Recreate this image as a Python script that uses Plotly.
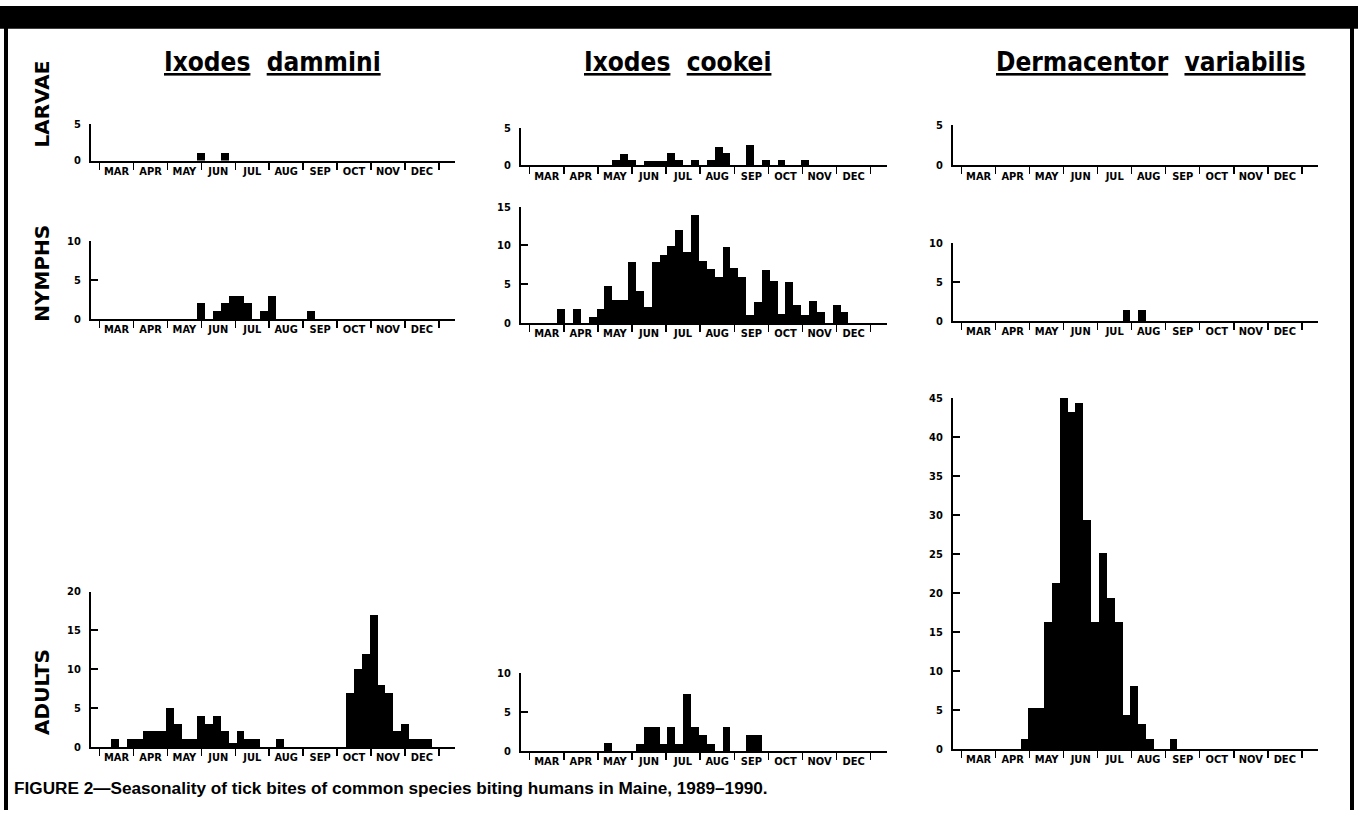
import plotly.graph_objects as go

W, H = 1358, 817
WEEKS_PER_MONTH = 52 / 12

# ---------------- data (week index after 1 March, bites per week) ----------------
months = ["MAR", "APR", "MAY", "JUN", "JUL", "AUG", "SEP", "OCT", "NOV", "DEC"]

dammini_larvae_weeks = [13, 16]
dammini_larvae_counts = [1, 1]

dammini_nymph_weeks = [13, 15, 16, 17, 18, 19, 21, 22, 27]
dammini_nymph_counts = [2, 1, 2, 3, 3, 2, 1, 3, 1]

dammini_adult_weeks = [2, 4, 5, 6, 7, 8, 9, 10, 11, 12, 13, 14, 15, 16, 17, 18, 19, 20, 23,
                       32, 33, 34, 35, 36, 37, 38, 39, 40, 41, 42]
dammini_adult_counts = [1, 1, 1, 2, 2, 2, 5, 3, 1, 1, 4, 3, 4, 2, 0.5, 2, 1, 1, 1,
                        7, 10, 12, 17, 8, 7, 2, 3, 1, 1, 1]

cookei_larvae_weeks = [11, 12, 13, 15, 16, 17, 18, 19, 21, 23, 24, 25, 28, 30, 32, 35]
cookei_larvae_counts = [0.7, 1.5, 0.7, 0.6, 0.6, 0.6, 1.6, 0.7, 0.7, 0.7, 2.5, 1.6, 2.7, 0.7, 0.7, 0.7]

cookei_nymph_weeks = [4, 6, 8, 9, 10, 11, 12, 13, 14, 15, 16, 17, 18, 19, 20, 21, 22, 23, 24,
                      25, 26, 27, 28, 29, 30, 31, 32, 33, 34, 35, 36, 37, 39, 40]
cookei_nymph_counts = [1.8, 1.8, 0.7, 1.8, 4.8, 2.9, 2.9, 7.9, 4.1, 2.0, 7.9, 8.8, 9.9, 12.0, 9.2,
                       13.9, 8.0, 7.0, 5.9, 9.8, 7.1, 5.9, 1.05, 2.7, 6.8, 5.4, 1.2, 5.3, 2.3,
                       1.05, 2.8, 1.35, 2.3, 1.35]

cookei_adult_weeks = [10, 14, 15, 16, 17, 18, 19, 20, 21, 22, 23, 25, 28, 29]
cookei_adult_counts = [1.0, 0.9, 3.1, 3.1, 0.9, 3.1, 0.9, 7.3, 3.1, 2.0, 0.9, 3.1, 2.0, 2.0]

dermacentor_larvae_weeks = []
dermacentor_larvae_counts = []

dermacentor_nymph_weeks = [21, 23]
dermacentor_nymph_counts = [1.4, 1.4]

dermacentor_adult_weeks = [8, 9, 10, 11, 12, 13, 14, 15, 16, 17, 18, 19, 20, 21, 22, 23, 24, 27]
dermacentor_adult_counts = [1.3, 5.2, 5.2, 16.3, 21.2, 45, 43.2, 44.3, 29.3, 16.3, 25.1, 19.3,
                            16.3, 4.3, 8.1, 3.2, 1.3, 1.3]

species = ["Ixodes dammini", "Ixodes cookei", "Dermacentor variabilis"]
stages = ["LARVAE", "NYMPHS", "ADULTS"]
caption = "FIGURE 2\u2014Seasonality of tick bites of common species biting humans in Maine, 1989\u20131990."

# ---------------- layout geometry (pixels) ----------------
col_x = [(91, 455), (521, 887), (953, 1318)]
panels = [
    # (weeks, counts, ymax, column, y_top_px, y_zero_px)
    (dammini_larvae_weeks, dammini_larvae_counts, 5, 0, 120, 157),
    (dammini_nymph_weeks, dammini_nymph_counts, 10, 0, 239, 318),
    (dammini_adult_weeks, dammini_adult_counts, 20, 0, 595, 753),
    (cookei_larvae_weeks, cookei_larvae_counts, 5, 1, 124, 162),
    (cookei_nymph_weeks, cookei_nymph_counts, 15, 1, 204, 322),
    (cookei_adult_weeks, cookei_adult_counts, 10, 1, 678, 757),
    (dermacentor_larvae_weeks, dermacentor_larvae_counts, 5, 2, 121, 162),
    (dermacentor_nymph_weeks, dermacentor_nymph_counts, 10, 2, 241, 320),
    (dermacentor_adult_weeks, dermacentor_adult_counts, 45, 2, 398, 755),
]


def px(x):
    return x / W


def py(y):
    return 1 - y / H


NARROW = "DejaVu Sans Condensed, Liberation Sans Narrow, sans-serif"

fig = go.Figure()
layout = dict(
    width=W, height=H,
    margin=dict(l=0, r=0, t=0, b=0),
    paper_bgcolor="white", plot_bgcolor="white",
    showlegend=False,
    bargap=0,
)

month_centers = [(i + 0.5) * WEEKS_PER_MONTH for i in range(len(months))]

for i, (wk, ct, ymax, col, ytop, yzero) in enumerate(panels):
    n = i + 1
    xs = "" if n == 1 else str(n)
    fig.add_trace(go.Bar(
        x=wk, y=ct, width=1,
        marker=dict(color="black", line=dict(width=0)),
        xaxis="x" + xs, yaxis="y" + xs,
    ))
    x0, x1 = col_x[col]
    layout["xaxis" + xs] = dict(
        domain=[px(x0), px(x1)],
        range=[-1.1, 45.4],
        anchor="y" + xs,
        showline=True, linewidth=2, linecolor="black",
        showgrid=False, zeroline=False,
        tickmode="array", tickvals=month_centers, ticktext=months,
        ticks="",
        tickfont=dict(family=NARROW, size=11, color="black", weight="bold"),
        ticklabelstandoff=-1,
        minor=dict(tickmode="linear", tick0=0, dtick=WEEKS_PER_MONTH,
                   ticks="outside", ticklen=7, tickwidth=1.5, tickcolor="black",
                   showgrid=False),
        fixedrange=True,
    )
    layout["yaxis" + xs] = dict(
        domain=[py(yzero), py(ytop)],
        range=[0, ymax],
        anchor="x" + xs,
        showline=True, linewidth=2, linecolor="black",
        showgrid=False, zeroline=False,
        tickmode="array", tickvals=list(range(0, ymax + 1, 5)),
        ticks="inside", ticklen=7, tickwidth=2, tickcolor="black",
        tickfont=dict(family=NARROW, size=11, color="black", weight="bold"),
        ticklabelstandoff=6,
        fixedrange=True,
    )

annotations = []
title_x = [272, 677, 1151]
for name, cx in zip(species, title_x):
    words = name.split(" ")
    txt = "  ".join("<u>" + w_ + "</u>" for w_ in words)
    annotations.append(dict(
        x=px(cx), y=py(57), xref="paper", yref="paper",
        text=txt, showarrow=False, xanchor="center", yanchor="middle",
        font=dict(family=NARROW, size=26, color="black", weight="bold"),
    ))

stage_y = [100, 272, 697]
for st, cy in zip(stages, stage_y):
    annotations.append(dict(
        x=px(42), y=py(cy), xref="paper", yref="paper",
        text=st, showarrow=False, textangle=-90,
        xanchor="center", yanchor="middle",
        font=dict(family="DejaVu Sans, Arial, sans-serif", size=20, color="black", weight="bold"),
    ))

annotations.append(dict(
    x=px(12), y=py(795), xref="paper", yref="paper",
    text=caption, showarrow=False, xanchor="left", yanchor="middle",
    font=dict(family="Liberation Sans, Arial, sans-serif", size=17.2, color="black", weight="bold"),
))
layout["annotations"] = annotations

layout["shapes"] = [
    dict(type="rect", xref="paper", yref="paper", x0=0, x1=1, y0=py(23), y1=1,
         fillcolor="black", line=dict(width=0), layer="above"),
    dict(type="rect", xref="paper", yref="paper", x0=px(4), x1=px(8), y0=0, y1=1,
         fillcolor="black", line=dict(width=0), layer="above"),
    dict(type="rect", xref="paper", yref="paper", x0=px(1350), x1=px(1354), y0=0, y1=1,
         fillcolor="black", line=dict(width=0), layer="above"),
]

fig.update_layout(**layout)

fig.write_html(
    "out.html",
    include_plotlyjs=True,
    config={"displayModeBar": False, "staticPlot": True},
    post_script="document.body.style.margin='0';document.body.style.overflow='hidden';",
)
